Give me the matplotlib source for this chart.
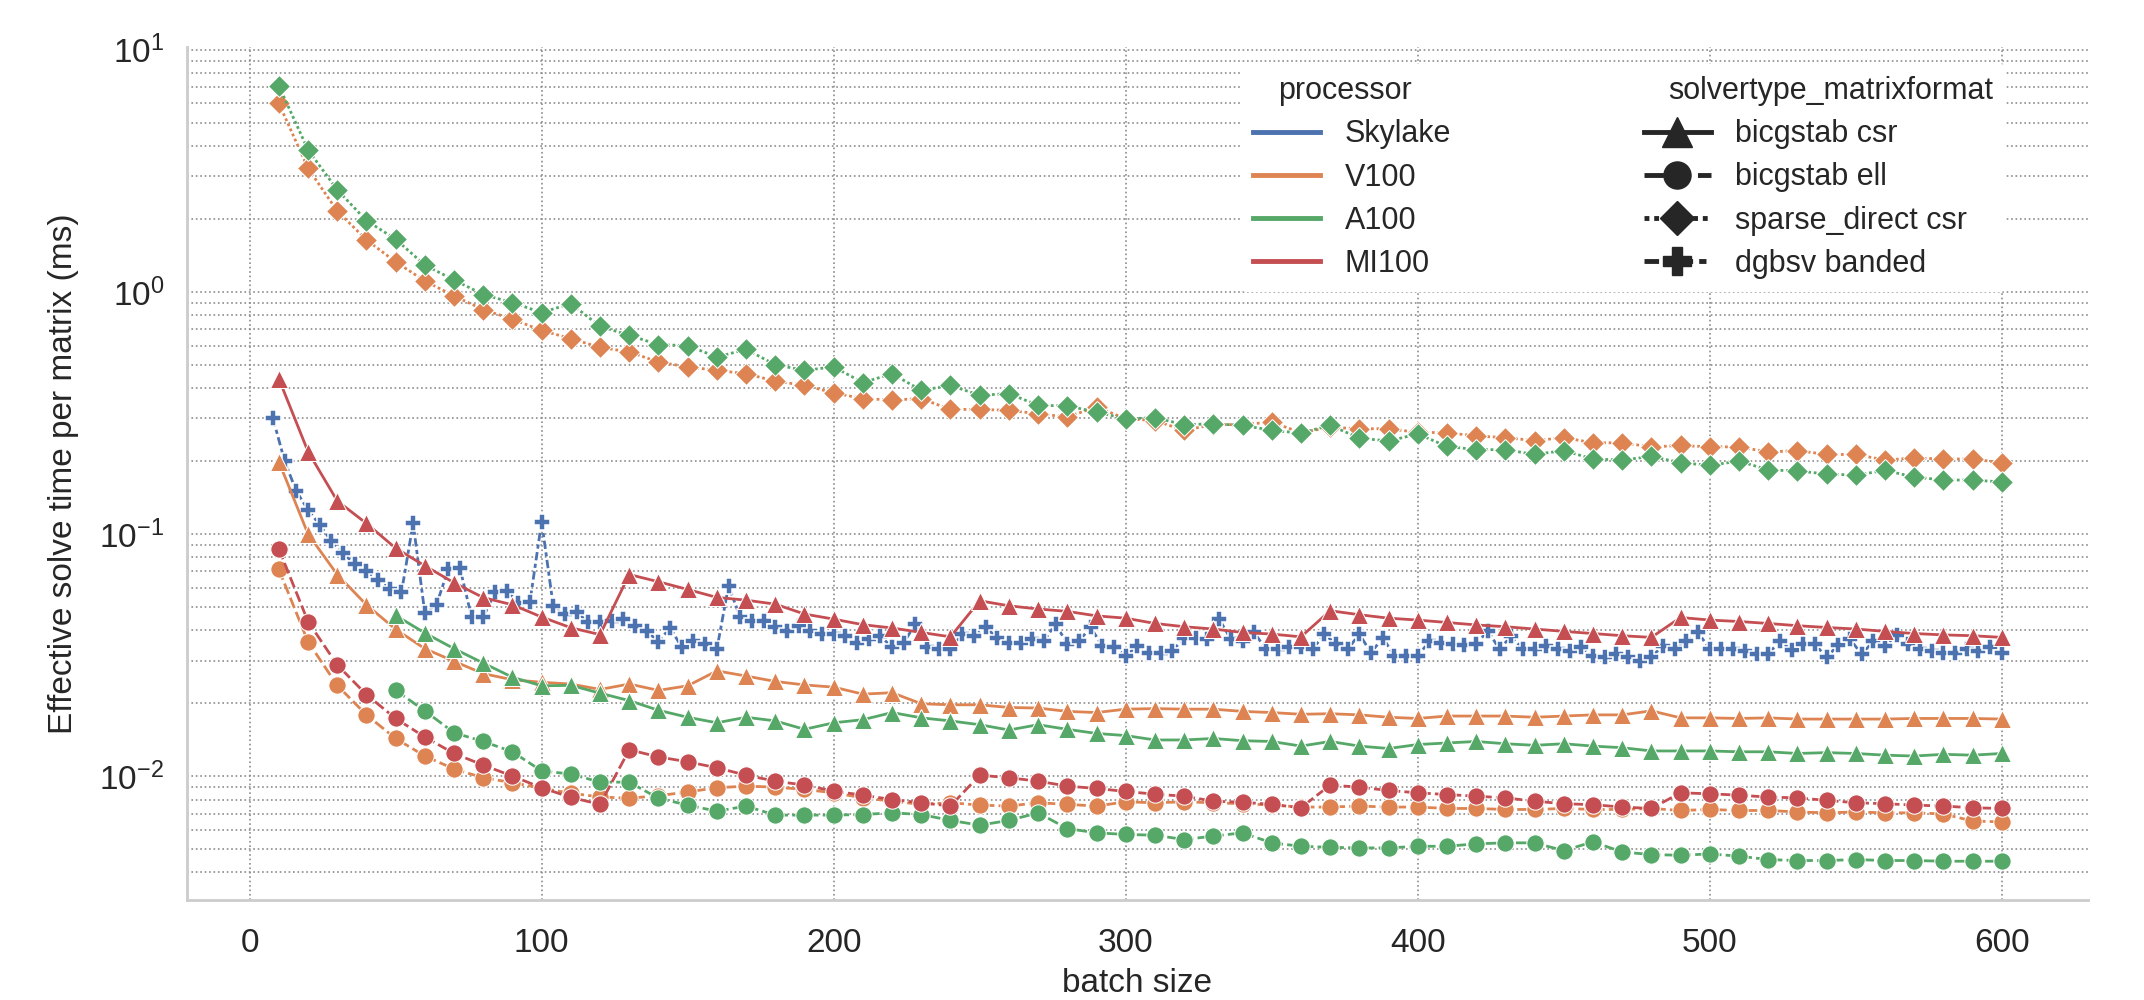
import numpy as np
import matplotlib
matplotlib.use("Agg")
import matplotlib.pyplot as plt
from matplotlib.lines import Line2D
from matplotlib.ticker import NullFormatter

plt.rcParams['font.family'] = ['Liberation Sans', 'DejaVu Sans']
plt.rcParams['text.color'] = '#262626'
plt.rcParams['axes.labelcolor'] = '#262626'
plt.rcParams['xtick.color'] = '#262626'
plt.rcParams['ytick.color'] = '#262626'

# batch sizes
batch_10 = list(range(10, 601, 10))
batch_50 = list(range(50, 601, 10))
batch_sky = list(range(8, 601, 4))

# effective solve time per matrix (ms)
v100_sparse = [6.01, 3.24, 2.16, 1.64, 1.33, 1.11, 0.962, 0.845, 0.771, 0.693,
               0.641, 0.590, 0.565, 0.513, 0.490, 0.474, 0.459, 0.428, 0.411, 0.383,
               0.362, 0.358, 0.362, 0.327, 0.327, 0.324, 0.314, 0.304, 0.335, 0.299,
               0.294, 0.268, 0.283, 0.283, 0.290, 0.262, 0.276, 0.272, 0.272, 0.263,
               0.262, 0.254, 0.250, 0.243, 0.250, 0.238, 0.238, 0.229, 0.232, 0.229,
               0.229, 0.218, 0.221, 0.213, 0.213, 0.202, 0.206, 0.204, 0.204, 0.197]
a100_sparse = [7.10, 3.86, 2.64, 1.97, 1.65, 1.29, 1.12, 0.975, 0.903, 0.821,
               0.895, 0.720, 0.662, 0.605, 0.600, 0.538, 0.579, 0.500, 0.474, 0.490,
               0.422, 0.459, 0.392, 0.411, 0.374, 0.380, 0.340, 0.338, 0.319, 0.299,
               0.302, 0.283, 0.285, 0.281, 0.268, 0.261, 0.281, 0.249, 0.242, 0.259,
               0.230, 0.223, 0.223, 0.213, 0.221, 0.204, 0.202, 0.209, 0.197, 0.192,
               0.200, 0.184, 0.182, 0.177, 0.175, 0.183, 0.172, 0.167, 0.167, 0.164]
mi100_csr = [0.438, 0.219, 0.137, 0.1106, 0.0874, 0.0739, 0.0629, 0.0546, 0.0510, 0.0454,
             0.0410, 0.0384, 0.0680, 0.0635, 0.0590, 0.0547, 0.0533, 0.0513, 0.0467, 0.0445,
             0.0422, 0.0409, 0.0392, 0.0376, 0.0530, 0.0505, 0.0490, 0.0479, 0.0459, 0.0449,
             0.0427, 0.0414, 0.0405, 0.0392, 0.0386, 0.0376, 0.0482, 0.0464, 0.0449, 0.0441,
             0.0431, 0.0421, 0.0414, 0.0405, 0.0396, 0.0388, 0.0380, 0.0374, 0.0452, 0.0441,
             0.0435, 0.0427, 0.0418, 0.0411, 0.0405, 0.0396, 0.0388, 0.0383, 0.0380, 0.0374]
v100_csr = [0.199, 0.100, 0.068, 0.051, 0.0404, 0.0336, 0.0298, 0.0265, 0.0250, 0.0244,
            0.0240, 0.0228, 0.0240, 0.0226, 0.0236, 0.0272, 0.0259, 0.0246, 0.0238, 0.0233,
            0.0218, 0.0221, 0.0199, 0.0197, 0.0197, 0.0192, 0.0191, 0.0185, 0.0183, 0.0189,
            0.0190, 0.0189, 0.0189, 0.0185, 0.0183, 0.0180, 0.0181, 0.0179, 0.0175, 0.0173,
            0.0177, 0.0177, 0.0177, 0.0175, 0.0177, 0.0179, 0.0179, 0.0186, 0.0174, 0.0174,
            0.0173, 0.0174, 0.0172, 0.0172, 0.0172, 0.0172, 0.0173, 0.0173, 0.0173, 0.0172]
a100_csr = [0.0461, 0.0390, 0.0336, 0.0293, 0.0256, 0.0236,
            0.0237, 0.0220, 0.0205, 0.0187, 0.0175, 0.0166, 0.0175, 0.0169, 0.0156, 0.0166,
            0.0171, 0.0183, 0.0174, 0.0169, 0.0163, 0.0155, 0.0163, 0.0156, 0.0150, 0.0147,
            0.0141, 0.0141, 0.0143, 0.0140, 0.0139, 0.0133, 0.0139, 0.0133, 0.0130, 0.0135,
            0.0137, 0.0139, 0.0136, 0.0134, 0.0136, 0.0133, 0.0131, 0.0127, 0.0127, 0.0127,
            0.0126, 0.0126, 0.0124, 0.0125, 0.0124, 0.0122, 0.0121, 0.0123, 0.0122, 0.0124]
mi100_ell = [0.0868, 0.0435, 0.0288, 0.0217, 0.0173, 0.0145, 0.0124, 0.0111, 0.0100, 0.00895,
             0.00817, 0.00764, 0.01285, 0.0120, 0.01146, 0.01082, 0.01009, 0.00953, 0.00918, 0.00867,
             0.00834, 0.00800, 0.00776, 0.00752, 0.01009, 0.00984, 0.00953, 0.00909, 0.00889, 0.00864,
             0.00842, 0.00826, 0.00788, 0.00780, 0.00764, 0.00740, 0.00918, 0.00900, 0.00872, 0.00853,
             0.00839, 0.00826, 0.00813, 0.00788, 0.00769, 0.00762, 0.00745, 0.00735, 0.00853, 0.00845,
             0.00834, 0.00819, 0.00813, 0.00794, 0.00776, 0.00769, 0.00759, 0.00752, 0.00740, 0.00735]
v100_ell = [0.0714, 0.0359, 0.0237, 0.0179, 0.0143, 0.0121, 0.0107, 0.00984, 0.0094, 0.0089,
            0.0085, 0.0082, 0.0081, 0.0083, 0.0086, 0.00895, 0.00909, 0.0090, 0.00881, 0.00853,
            0.00813, 0.00788, 0.00764, 0.00776, 0.00759, 0.00752, 0.00776, 0.00764, 0.00752, 0.00783,
            0.00776, 0.00783, 0.00776, 0.00769, 0.00759, 0.00745, 0.00745, 0.00752, 0.00745, 0.00745,
            0.00735, 0.00735, 0.00728, 0.00728, 0.00735, 0.00728, 0.00728, 0.00735, 0.00721, 0.00728,
            0.00721, 0.00721, 0.00711, 0.00705, 0.00711, 0.00705, 0.00705, 0.00698, 0.00652, 0.00647]
a100_ell = [0.0226, 0.0186, 0.0151, 0.0139, 0.0126, 0.0105,
            0.0102, 0.00944, 0.00944, 0.00810, 0.00759, 0.00716, 0.00752, 0.00690, 0.00690, 0.00690,
            0.00694, 0.00705, 0.00694, 0.00656, 0.00627, 0.00656, 0.00705, 0.00607, 0.00583, 0.00574,
            0.00570, 0.00547, 0.00565, 0.00583, 0.00530, 0.00513, 0.00508, 0.00505, 0.00505, 0.00513,
            0.00513, 0.00525, 0.00530, 0.00530, 0.00492, 0.00535, 0.00486, 0.00474, 0.00471, 0.00477,
            0.00467, 0.00452, 0.00448, 0.00448, 0.00452, 0.00448, 0.00448, 0.00445, 0.00445, 0.00445]
skylake_dgbsv = [0.30, 0.20, 0.15, 0.126, 0.109, 0.0935, 0.0832, 0.0751, 0.0703, 0.0646,
                 0.0594, 0.0574, 0.111, 0.0470, 0.0511, 0.0714, 0.0726, 0.0454, 0.0454, 0.0574,
                 0.0583, 0.052, 0.0525, 0.1125, 0.0502, 0.0465, 0.0474, 0.0432, 0.0432, 0.0438,
                 0.0446, 0.0417, 0.0397, 0.0359, 0.0410, 0.0340, 0.0360, 0.0351, 0.0334, 0.0611,
                 0.0452, 0.0438, 0.0438, 0.0411, 0.0398, 0.0418, 0.0398, 0.0386, 0.0386, 0.0379,
                 0.0356, 0.0368, 0.0379, 0.0340, 0.0356, 0.0425, 0.0340, 0.0334, 0.0334, 0.0386,
                 0.0379, 0.0411, 0.0373, 0.0356, 0.0356, 0.0368, 0.0362, 0.0425, 0.0351, 0.0362,
                 0.0411, 0.0345, 0.0340, 0.0314, 0.0345, 0.0323, 0.0323, 0.0329, 0.0373, 0.0373,
                 0.0368, 0.0445, 0.0368, 0.0362, 0.0392, 0.0334, 0.0334, 0.0342, 0.0340, 0.0334,
                 0.0386, 0.0351, 0.0334, 0.0386, 0.0323, 0.0373, 0.0314, 0.0314, 0.0314, 0.0360,
                 0.0353, 0.0351, 0.0349, 0.0351, 0.0398, 0.0334, 0.0379, 0.0334, 0.0334, 0.0345,
                 0.0334, 0.0329, 0.0340, 0.0314, 0.0309, 0.0319, 0.0309, 0.0299, 0.0311, 0.0345,
                 0.0334, 0.0362, 0.0392, 0.0334, 0.0334, 0.0334, 0.0329, 0.0319, 0.0319, 0.0362,
                 0.0331, 0.0351, 0.0351, 0.0309, 0.0349, 0.0368, 0.0319, 0.0360, 0.0345, 0.0383,
                 0.0351, 0.0334, 0.0329, 0.0321, 0.0323, 0.0334, 0.0329, 0.0342, 0.0323]

processors = ['Skylake', 'V100', 'A100', 'MI100']
solvers = ['bicgstab csr', 'bicgstab ell', 'sparse_direct csr', 'dgbsv banded']
colors = {'Skylake': '#4C72B0', 'V100': '#DD8452', 'A100': '#55A868', 'MI100': '#C44E52'}
markers = {'bicgstab csr': '^', 'bicgstab ell': 'o', 'sparse_direct csr': 'D', 'dgbsv banded': 'P'}
msizes = {'bicgstab csr': 12.5, 'bicgstab ell': 12.5, 'sparse_direct csr': 11, 'dgbsv banded': 11.5}
leg_msizes = {'bicgstab csr': 21, 'bicgstab ell': 19.5, 'sparse_direct csr': 17, 'dgbsv banded': 19.5}
dashes = {'bicgstab csr': None, 'bicgstab ell': (4, 1.5), 'sparse_direct csr': (1, 1),
          'dgbsv banded': (3, 1.25, 1.5, 1.25)}

# drawn in hue order, like seaborn does
series = [
    ('Skylake', 'dgbsv banded', batch_sky, skylake_dgbsv),
    ('V100', 'bicgstab csr', batch_10, v100_csr),
    ('V100', 'bicgstab ell', batch_10, v100_ell),
    ('V100', 'sparse_direct csr', batch_10, v100_sparse),
    ('A100', 'bicgstab csr', batch_50, a100_csr),
    ('A100', 'bicgstab ell', batch_50, a100_ell),
    ('A100', 'sparse_direct csr', batch_10, a100_sparse),
    ('MI100', 'bicgstab csr', batch_10, mi100_csr),
    ('MI100', 'bicgstab ell', batch_10, mi100_ell),
]

fig, ax = plt.subplots(figsize=(21.44, 10), dpi=100)
fig.subplots_adjust(left=0.087, right=0.974, bottom=0.1, top=0.953)

for proc, solver, xs, ys in series:
    # the thin-looking plus gets a slightly wider white edge
    edge = 1.1 if solver == 'dgbsv banded' else 0.75
    line, = ax.plot(xs, ys, color=colors[proc], lw=2, marker=markers[solver],
                    ms=msizes[solver], mec='w', mew=edge)
    if dashes[solver] is not None:
        line.set_dashes(dashes[solver])

ax.set_yscale('log')
ax.yaxis.set_minor_formatter(NullFormatter())
ax.set_xticks([0, 100, 200, 300, 400, 500, 600])
ax.grid(True, which='major', axis='x', ls=':', color='0.55', lw=1.2)
ax.grid(True, which='both', axis='y', ls=':', color='0.55', lw=1.2)
ax.set_axisbelow(True)
for side in ['top', 'right']:
    ax.spines[side].set_visible(False)
for side in ['left', 'bottom']:
    ax.spines[side].set_color('0.8')
    ax.spines[side].set_linewidth(2)
ax.tick_params(which='both', length=0, labelsize=24)
ax.tick_params(axis='x', pad=20.5)
ax.tick_params(axis='y', pad=16)

ax.set_xlabel('batch size', fontsize=24, labelpad=6)
ax.set_ylabel('Effective solve time per matrix (ms)', fontsize=24, labelpad=15)

# legend: two columns with subtitle rows
handles = [Line2D([], [], visible=False)]
labels = ['processor']
for p in processors:
    handles.append(Line2D([], [], color=colors[p], lw=3.5))
    labels.append(p)
handles.append(Line2D([], [], visible=False))
labels.append('solvertype_matrixformat')
for s in solvers:
    h = Line2D([], [], color='.15', lw=3.5, marker=markers[s], ms=leg_msizes[s])
    if dashes[s] is not None:
        h.set_dashes(dashes[s])
    handles.append(h)
    labels.append(s)

leg = fig.legend(handles, labels, ncol=2, loc='upper left',
                 bbox_to_anchor=(1241 / 2144, 1 - 64 / 1000), borderaxespad=0,
                 fontsize=22, handlelength=2.2, handletextpad=0.8,
                 columnspacing=6.3, labelspacing=0.43, frameon=True,
                 facecolor='white', edgecolor='white', framealpha=1)
for col in leg._legend_handle_box.get_children():
    for row in col.get_children():
        area, text = row.get_children()
        if text.get_text() in ('processor', 'solvertype_matrixformat'):
            area.set_width(0)

plt.savefig('out.png', dpi=100)
